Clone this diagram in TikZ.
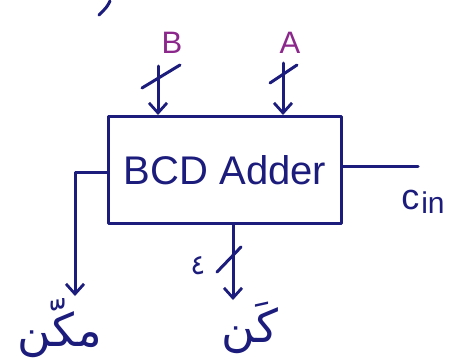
\documentclass[tikz,border=0pt]{standalone}
\usepackage{fontspec}
\setmainfont{Liberation Sans}
\newfontfamily\arabicfont[Script=Arabic]{DejaVu Sans}
\usetikzlibrary{arrows.meta}
\definecolor{inkblue}{RGB}{28,28,125}
\definecolor{inkpurple}{RGB}{140,40,140}
\begin{document}
\begin{tikzpicture}[x=1pt,y=-1pt,
  ink/.style={draw=inkblue, line width=3pt, line cap=round, line join=round},
  bus/.style={ink, -{Straight Barb[length=10pt,width=18pt,line width=2.8pt]}},
  inlabel/.style={text=inkpurple, font=\fontsize{31}{33}\selectfont, inner sep=0},
  outlabel/.style={text=inkblue, font=\arabicfont\fontsize{46}{48}\selectfont, inner sep=0},
  blocktext/.style={text=inkblue, font=\fontsize{40}{44}\selectfont}]
\useasboundingbox (0,0) rectangle (462,359);
\fill[white] (0,0) rectangle (462,359);

% stray pen stroke at the top
\draw[ink] (110,1) .. controls (107,7) .. (99,15);

% the adder block
\node[ink, blocktext, minimum width=233pt, minimum height=107pt, inner sep=0,
      anchor=north west] (adder) at (107,115) {BCD Adder};

% inputs
\node[inlabel] (lb) at (172,43) {B};
\node[inlabel] (la) at (290,43) {A};
\coordinate (bin) at (158,66);
\coordinate (ain) at (283,63);
\draw[bus] (bin) -- (bin |- adder.north);
\draw[bus] (ain) -- (ain |- adder.north);
\draw[ink] (142,88) -- (180,65);
\draw[ink] (270,83) -- (297,65);

% carry in
\coordinate (cin) at (418,166);
\draw[ink] (adder.east |- cin) -- (cin);
\node[text=inkblue, inner sep=0, font=\fontsize{36}{38}\selectfont] (lcin) at (423,202)
  {c\hspace{2pt}\raisebox{-0.2ex}{\fontsize{30}{32}\selectfont in}};

% carry out
\coordinate (cy) at (0,172);
\coordinate (cout) at (75,296);
\draw[bus] (adder.west |- cy) -| (cout);
\node[outlabel] (lcout) at (60,328) {مكّن};

% sum
\coordinate (sum) at (233,300);
\draw[bus] (adder.south -| sum) -- (sum);
\draw[ink] (217,272) -- (241,247);
\node[text=inkblue, inner sep=0, font=\arabicfont\fontsize{28}{30}\selectfont] (lfour) at (198,266) {٤};
\node[outlabel] (lsum) at (250,328) {كَن};
\end{tikzpicture}
\end{document}
